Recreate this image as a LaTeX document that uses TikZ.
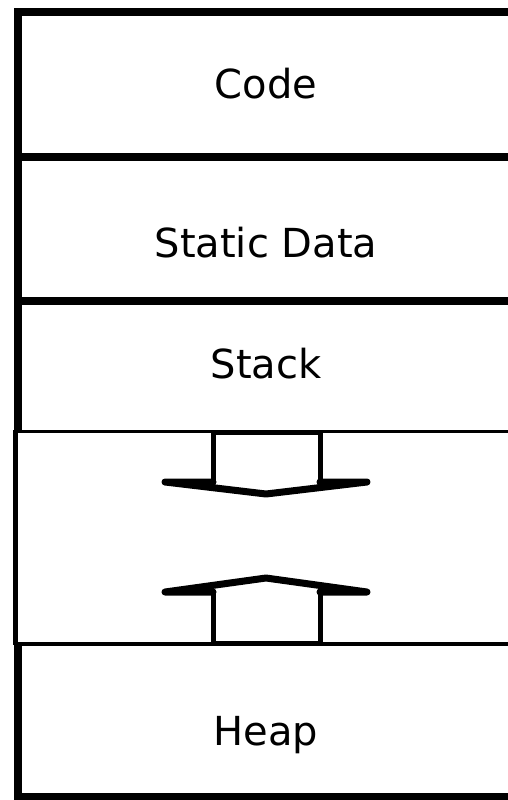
\documentclass[tikz,border=0pt]{standalone}
\usepackage{fontspec}
\setmainfont{DejaVu Sans}
\usetikzlibrary{positioning}
\begin{document}
\begin{tikzpicture}[x=1pt,y=-1pt,
  wall/.style={line width=8pt},
  thinwall/.style={line width=3pt},
  arrowbody/.style={line width=5pt, line join=round},
  arrowhead/.style={line width=7pt, line join=round, line cap=round},
  seglabel/.style={font=\fontsize{40}{44}\selectfont, anchor=base, inner sep=0pt}]
		\useasboundingbox (0,0) rectangle (508,800);
		\fill[white] (0,0) rectangle (508,800);
		\draw[wall] (508,12) -- (17.5,12) -- (17.5,431);
		\draw[wall] (17.5,156.5) -- (508,156.5);
		\draw[wall] (17.5,300.5) -- (508,300.5);
		\draw[thinwall] (15.5,431) -- (508,431);
		\draw[line width=5pt] (15.5,430) -- (15.5,645);
		\draw[line width=4pt] (15.5,644) -- (508,644);
		\draw[wall] (17.5,644) -- (17.5,797) -- (508,797);
		
		\node[seglabel] (code) at (266,98) {Code};
		\node[seglabel] (static) at (266,257) {Static Data};
		\node[seglabel] (stack) at (266,378) {Stack};
		\node[seglabel] (heap) at (266,745) {Heap};
		
		\draw[arrowbody] (213,482) -- (213,432) -- (320,432) -- (320,482);
		\draw[arrowhead] (213,482) -- (165,482) -- (266,494) -- (367,482) -- (320,482);
		\draw[arrowbody] (213,592) -- (213,643) -- (320,643) -- (320,592);
		\draw[arrowhead] (213,592) -- (165,592) -- (266,578) -- (367,592) -- (320,592);
\end{tikzpicture}
\end{document}
